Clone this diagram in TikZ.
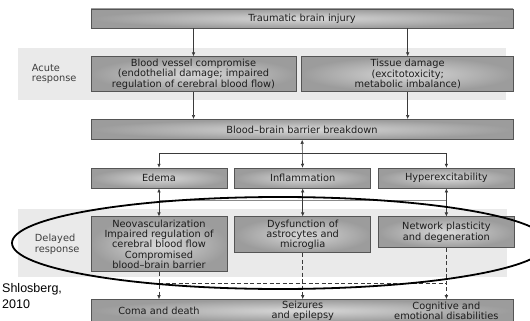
\documentclass[tikz,border=0pt]{standalone}
\usepackage{fontspec}
\setmainfont{DejaVu Sans}
\newfontfamily\citefont{Liberation Sans}
\usepackage{tikz}
\usetikzlibrary{arrows.meta,positioning,backgrounds,calc}
\definecolor{boxline}{HTML}{555555}
\definecolor{boxlight}{HTML}{D8D8D8}
\definecolor{boxdark}{HTML}{9C9C9C}
\definecolor{bandfill}{HTML}{EAEAEA}
\definecolor{inktext}{HTML}{1C1C1C}
\definecolor{wire}{HTML}{3A3A3A}

\begin{document}
\begin{tikzpicture}[
  x=1pt, y=1pt,
  font=\fontsize{9.8}{10.3}\selectfont,
  box/.style={draw=boxline, line width=0.7pt, inner color=boxlight, outer color=boxdark, minimum height=20pt, inner sep=1pt, align=center, text=inktext},
  txt/.style={inner sep=0pt, align=center, text=inktext},
  lbl/.style={inner sep=0pt, align=left, text=inktext!85},
  band/.style={fill=bandfill},
  arr/.style={-{Latex[length=4pt,width=3.6pt]}, wire, line width=0.6pt},
  dbl/.style={{Latex[length=4pt,width=3.6pt]}-{Latex[length=4pt,width=3.6pt]}, wire, line width=0.6pt},
  darr/.style={arr, dash pattern=on 4pt off 2.5pt},
  ring/.style={draw=black, line width=1.8pt}
]
\useasboundingbox (0,0) rectangle (530,-321);

\node[box, minimum width=422pt, minimum height=19pt] (tbi) at (302,-18.5) {Traumatic brain injury};
\node[box, minimum width=205pt, minimum height=35pt, below=28pt of tbi.south west, anchor=north west] (bv) {Blood vessel compromise\\(endothelial damage; impaired\\regulation of cerebral blood flow)};
\node[box, minimum width=212pt, minimum height=35pt, right=5pt of bv] (td) {Tissue damage\\(excitotoxicity;\\metabolic imbalance)};
\node[box, minimum width=422pt, below=27pt of bv.south west, anchor=north west] (bbb) {Blood--brain barrier breakdown};
\node[box, minimum width=136pt, below=28pt of bbb.south west, anchor=north west] (ed) {Edema};
\node[box, minimum width=136pt, right=7pt of ed] (inf) {Inflammation};
\node[box, minimum width=136pt, right=7pt of inf] (hyp) {Hyperexcitability};
\node[box, minimum width=136pt, minimum height=55pt, below=28pt of ed.south, anchor=north] (neo) {Neovascularization\\Impaired regulation of\\cerebral blood flow\\Compromised\\blood--brain barrier};
\node[box, minimum width=136pt, minimum height=36pt, below=28pt of inf.south, anchor=north] (dys) {Dysfunction of\\astrocytes and\\microglia};
\node[box, minimum width=136pt, minimum height=31pt, below=28pt of hyp.south, anchor=north] (net) {Network plasticity\\and degeneration};
\node[box, minimum width=422pt, minimum height=22pt, below=27pt of neo.south west, anchor=north west] (out) {};
\node[txt] (o1) at (ed |- out) {Coma and death};
\node[txt] (o2) at (inf |- out) {Seizures\\and epilepsy};
\node[txt] (o3) at (hyp |- out) {Cognitive and\\emotional disabilities};

\node[lbl, left=14pt of bv] (acu) {Acute\\response};
\node[lbl, left=11pt of neo] (del) {Delayed\\response};
\node[inner sep=0pt, align=left, font=\citefont\fontsize{12.5}{16}\selectfont, anchor=north west] (src) at (2,-283) {Shlosberg,\\2010};

\begin{scope}[on background layer]
\fill[band] ($(bv.north west)+(-73,8)$) rectangle ($(td.south east)+(-8,-8)$);
\fill[band] ($(neo.north west)+(-73,7)$) rectangle ($(net.east |- neo.south)+(-8,-5)$);
\end{scope}

\draw[arr] (tbi.south -| bv.north) -- (bv.north);
\draw[arr] (tbi.south -| td.north) -- (td.north);
\draw[arr] (bv.south) -- (bv.south |- bbb.north);
\draw[arr] (td.south) -- (td.south |- bbb.north);
\draw[dbl] (bbb) -- (inf);
\draw[arr] ([yshift=-14pt]bbb.south) -| (ed.north);
\draw[arr] ([yshift=-14pt]bbb.south) -| (hyp.north);
\draw[wire!60, line width=0.5pt] ([yshift=-12pt]ed.south) -- ([yshift=-12pt]hyp.south);
\draw[dbl] (ed) -- (neo);
\draw[dbl] (inf) -- (dys);
\draw[dbl] (hyp) -- (net);
\draw[darr] (neo.south) -- (neo.south |- out.north);
\draw[darr] (dys.south) -- (dys.south |- out.north);
\draw[darr] (net.south) -- (net.south |- out.north);
\draw[wire, line width=0.6pt, dash pattern=on 4pt off 2.5pt] ($(neo.south |- out.north)+(0,16)$) -- ($(net.south |- out.north)+(0,16)$);

\draw[ring] (280,-243) ellipse [x radius=268pt, y radius=46pt];
\end{tikzpicture}
\end{document}
